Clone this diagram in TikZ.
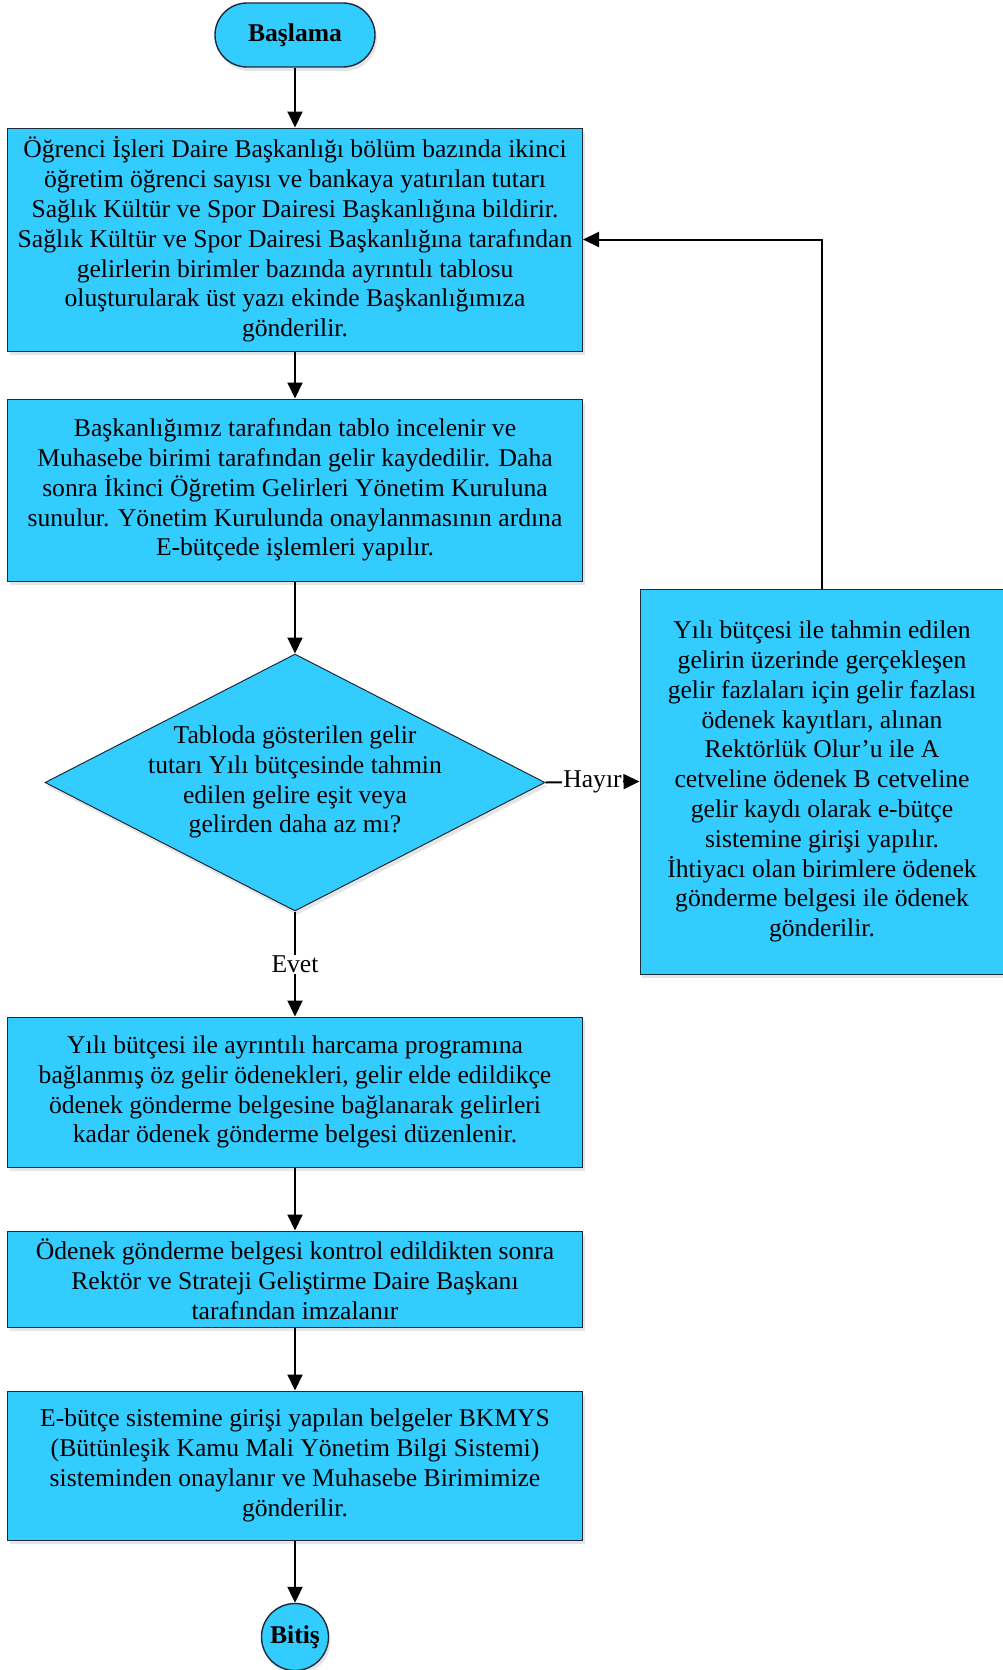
\documentclass[tikz,border=0pt]{standalone}
\usepackage{fontspec}
\setmainfont{Liberation Serif}
\usetikzlibrary{shapes.geometric,arrows.meta,shadows}
\definecolor{boxfill}{HTML}{33CCFF}
\definecolor{boxline}{HTML}{1E2A38}
\begin{document}
\begin{tikzpicture}[x=1pt,y=-1pt,
  every node/.style={font=\fontsize{25.6}{29.8}\selectfont},
  shad/.style={drop shadow={shadow xshift=2pt,shadow yshift=-4pt,opacity=0.12,fill=boxline}},
  proc/.style={draw=boxline,line width=1pt,fill=boxfill,minimum width=575pt,align=center,inner sep=0pt,shad},
  term/.style={draw=boxline,line width=1.4pt,fill=boxfill,inner sep=0pt,shad},
  conn/.style={line width=2pt,-{Triangle[length=16pt,width=15pt]}},
  lbl/.style={fill=white,inner sep=1pt}]
\useasboundingbox (0,0) rectangle (1003,1670);

\node[term,rounded corners=32pt,minimum width=160pt,minimum height=64pt] (start) at (295,35) {\textbf{Başlama}};

\node[proc,minimum height=223pt] (b1) at (295,239.5) {Öğrenci İşleri Daire Başkanlığı bölüm bazında ikinci\\
öğretim öğrenci sayısı ve bankaya yatırılan tutarı\\
Sağlık Kültür ve Spor Dairesi Başkanlığına bildirir.\\
Sağlık Kültür ve Spor Dairesi Başkanlığına tarafından\\
gelirlerin birimler bazında ayrıntılı tablosu\\
oluşturularak üst yazı ekinde Başkanlığımıza\\
gönderilir.};

\node[proc,minimum height=182pt] (b2) at (295,490) {Başkanlığımız tarafından tablo incelenir ve\\
Muhasebe birimi tarafından gelir kaydedilir. Daha\\
sonra İkinci Öğretim Gelirleri Yönetim Kuruluna\\
sunulur. Yönetim Kurulunda onaylanmasının ardına\\
E-bütçede işlemleri yapılır.};

\node[draw=boxline,line width=1pt,fill=boxfill,diamond,inner sep=0pt,minimum width=500pt,minimum height=257pt,shad] (dec) at (295,782.5) {};
\node[align=center,inner sep=0pt] (dtext) at (295,782) {Tabloda gösterilen gelir\\
tutarı Yılı bütçesinde tahmin\\
edilen gelire eşit veya\\
gelirden daha az mı?};

\node[proc,minimum width=364pt,minimum height=385pt] (rb) at (822,781.5) {Yılı bütçesi ile tahmin edilen\\
gelirin üzerinde gerçekleşen\\
gelir fazlaları için gelir fazlası\\
ödenek kayıtları, alınan\\
Rektörlük Olur’u ile A\\
cetveline ödenek B cetveline\\
gelir kaydı olarak e-bütçe\\
sistemine girişi yapılır.\\
İhtiyacı olan birimlere ödenek\\
gönderme belgesi ile ödenek\\
gönderilir.};

\node[proc,minimum height=150pt] (b3) at (295,1092) {Yılı bütçesi ile ayrıntılı harcama programına\\
bağlanmış öz gelir ödenekleri, gelir elde edildikçe\\
ödenek gönderme belgesine bağlanarak gelirleri\\
kadar ödenek gönderme belgesi düzenlenir.};

\node[proc,minimum height=96pt] (b4) at (295,1279) {Ödenek gönderme belgesi kontrol edildikten sonra\\
Rektör ve Strateji Geliştirme Daire Başkanı\\
tarafından imzalanır};

\node[proc,minimum height=149pt] (b5) at (295,1465.5) {E-bütçe sistemine girişi yapılan belgeler BKMYS\\
(Bütünleşik Kamu Mali Yönetim Bilgi Sistemi)\\
sisteminden onaylanır ve Muhasebe Birimimize\\
gönderilir.};

\node[term,circle,minimum size=67pt] (end) at (295,1637) {\textbf{Bitiş}};

\draw[conn] (start.south) -- (b1.north);
\draw[conn] (b1.south) -- (b2.north);
\draw[conn] (b2.south) -- (dec.north);
\draw[conn] (dec.south) -- node[lbl] {Evet} (b3.north);
\draw[conn] (dec.east) -- node[lbl] {Hayır} (rb.west);
\draw[conn] (rb.north) |- (b1.east);
\draw[conn] (b3.south) -- (b4.north);
\draw[conn] (b4.south) -- (b5.north);
\draw[conn] (b5.south) -- (end.north);
\end{tikzpicture}
\end{document}
